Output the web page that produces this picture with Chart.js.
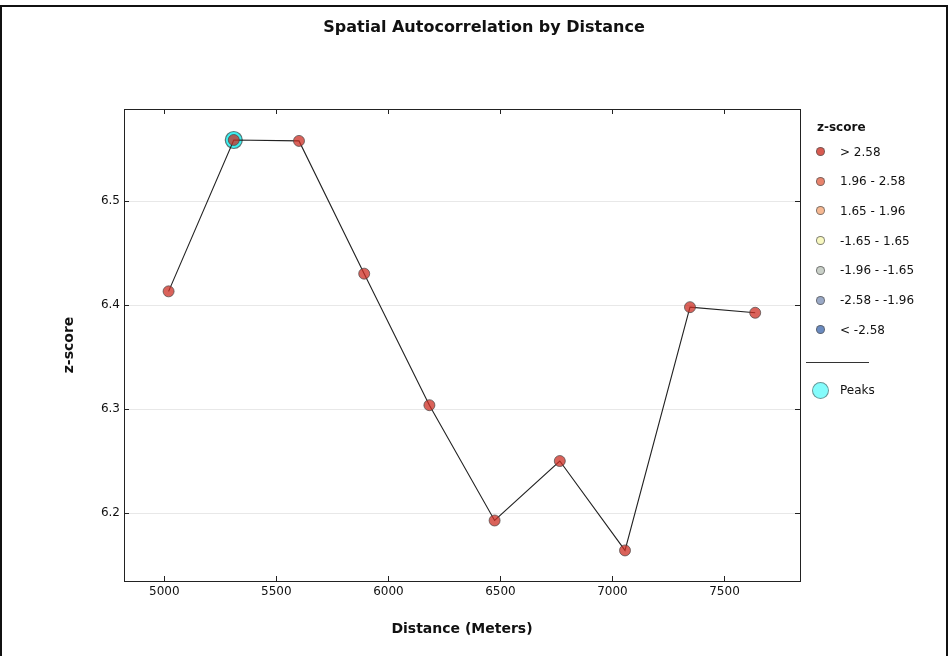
<!DOCTYPE html>
<html>
<head>
<meta charset="utf-8">
<script src="https://cdn.jsdelivr.net/npm/chart.js@4.4.1/dist/chart.umd.min.js"></script>
<style>
    html, body { margin: 0; padding: 0; background: #fff; }
    #wrap { position: relative; width: 948px; height: 656px; overflow: hidden; font-family: "DejaVu Sans", sans-serif; color: #111; }
    #frame { position: absolute; left: 0; top: 5px; width: 944px; height: 700px; border: 2px solid #111; }
    #title { position: absolute; left: 0; top: 17px; width: 968px; text-align: center; font-weight: bold; font-size: 16px; }
    #chart { position: absolute; left: 0; top: 0; }
    .lg { position: absolute; font-size: 12px; line-height: 14px; white-space: nowrap; }
    .dot { position: absolute; border-radius: 50%; box-sizing: border-box; border: 1px solid rgba(80,80,80,0.7); }
</style>
</head>
<body>
<div id="wrap">
    <div id="frame"></div>
    <canvas id="chart" width="948" height="656"></canvas>
    <div id="title">Spatial Autocorrelation by Distance</div>
    <div id="legend"></div>
</div>
<script>
// data
var distances = [5019, 5310, 5601, 5892, 6183, 6474, 6765, 7056, 7346, 7637];
var zScores = [6.4133, 6.5589, 6.5580, 6.4303, 6.3038, 6.1929, 6.2501, 6.1641, 6.3981, 6.3927];
var peakDistances = [5310];
var peakScores = [6.5589];
var xMin = 4820, xMax = 7837;
var yMin = 6.1347, yMax = 6.5887;
var xTicks = [5000, 5500, 6000, 6500, 7000, 7500];
var yTicks = [6.2, 6.3, 6.4, 6.5];

var legendLabels = ["> 2.58", "1.96 - 2.58", "1.65 - 1.96", "-1.65 - 1.65", "-1.96 - -1.65", "-2.58 - -1.96", "< -2.58"];
var legendColors = ["#d85a50", "#e8836c", "#f6b892", "#f8f8c0", "#c9d0c8", "#9aa9c6", "#6a8abf"];

function toPoints(xs, ys) {
    var pts = [];
    for (var i = 0; i < xs.length; i++) {
        pts.push({x: xs[i], y: ys[i]});
    }
    return pts;
}

function fixedTicks(values) {
    return function (scale) {
        scale.ticks = values.map(function (v) { return {value: v}; });
    };
}

// frame round the plot and small inward tick marks on all four sides
var frameTicks = {
    id: 'frameTicks',
    beforeDatasetsDraw: function (chart) {
        var ctx = chart.ctx;
        var a = chart.chartArea;
        var xs = chart.scales.x, ys = chart.scales.y;
        ctx.save();
        ctx.strokeStyle = '#222';
        ctx.lineWidth = 1;
        ctx.strokeRect(Math.round(a.left) + 0.5, Math.round(a.top) + 0.5, Math.round(a.right - a.left), Math.round(a.bottom - a.top));
        ctx.beginPath();
        xs.ticks.forEach(function (t) {
            var px = Math.round(xs.getPixelForValue(t.value)) + 0.5;
            ctx.moveTo(px, a.bottom); ctx.lineTo(px, a.bottom - 5);
            ctx.moveTo(px, a.top); ctx.lineTo(px, a.top + 5);
        });
        ys.ticks.forEach(function (t) {
            var py = Math.round(ys.getPixelForValue(t.value)) + 0.5;
            ctx.moveTo(a.left, py); ctx.lineTo(a.left + 5, py);
            ctx.moveTo(a.right, py); ctx.lineTo(a.right - 5, py);
        });
        ctx.stroke();
        ctx.restore();
    }
};

function main() {
    var ctx = document.getElementById('chart').getContext('2d');
    var myChart = new Chart(ctx, {
        type: 'scatter',
        data: {
            datasets: [{
                label: 'z-score',
                data: toPoints(distances, zScores),
                showLine: true,
                borderColor: '#222',
                borderWidth: 1.1,
                pointRadius: 5.5,
                pointBackgroundColor: 'rgba(205,45,35,0.75)',
                pointBorderColor: 'rgba(70,70,70,0.7)',
                pointBorderWidth: 1,
                order: 1
            }, {
                label: 'Peaks',
                data: toPoints(peakDistances, peakScores),
                pointRadius: 8.5,
                pointBackgroundColor: '#3ef0f0',
                pointBorderColor: 'rgba(70,90,90,0.8)',
                pointBorderWidth: 1.2,
                order: 2
            }]
        },
        options: {
            responsive: false,
            animation: false,
            layout: { padding: { left: 0, top: 109, right: 148, bottom: 0 } },
            plugins: {
                legend: { display: false },
                tooltip: { enabled: false },
                title: { display: false }
            },
            scales: {
                x: {
                    type: 'linear',
                    min: xMin,
                    max: xMax,
                    afterBuildTicks: fixedTicks(xTicks),
                    afterFit: function (scale) { scale.height = 75; },
                    grid: { display: false, drawTicks: false },
                    border: { display: false },
                    ticks: {
                        padding: 4,
                        maxRotation: 0,
                        color: '#111',
                        font: { family: 'DejaVu Sans', size: 12 },
                        callback: function (v) { return String(v); }
                    },
                    title: {
                        display: true,
                        text: 'Distance (Meters)',
                        color: '#111',
                        font: { family: 'DejaVu Sans', size: 14, weight: 'bold' },
                        padding: { top: 0, bottom: 18 }
                    }
                },
                y: {
                    type: 'linear',
                    min: yMin,
                    max: yMax,
                    afterBuildTicks: fixedTicks(yTicks),
                    afterFit: function (scale) { scale.width = 124; },
                    grid: { color: '#e8e8e8', drawTicks: false },
                    border: { display: false },
                    ticks: {
                        padding: 4,
                        color: '#111',
                        font: { family: 'DejaVu Sans', size: 12 },
                        callback: function (v) { return v.toFixed(1); }
                    },
                    title: {
                        display: true,
                        text: 'z-score',
                        color: '#111',
                        font: { family: 'DejaVu Sans', size: 14, weight: 'bold' },
                        padding: { top: 61, bottom: 0 }
                    }
                }
            }
        },
        plugins: [frameTicks]
    });
    buildLegend();
}

function buildLegend() {
    var box = document.getElementById('legend');
    var html = '<div class="lg" style="left:817px;top:120px;font-weight:bold;">z-score</div>';
    for (var i = 0; i < legendLabels.length; i++) {
        var cy = 151.5 + i * 29.7;
        html += '<div class="dot" style="left:' + (820.5 - 4.5) + 'px;top:' + (cy - 4.5) + 'px;width:9px;height:9px;background:' + legendColors[i] + ';"></div>';
        html += '<div class="lg" style="left:840px;top:' + (cy - 7) + 'px;">' + legendLabels[i].replace('<', '&lt;').replace('>', '&gt;') + '</div>';
    }
    html += '<div style="position:absolute;left:806px;top:362px;width:63px;height:1px;background:#333;"></div>';
    html += '<div class="dot" style="left:812px;top:381.5px;width:17px;height:17px;background:#84fcfc;border-color:rgba(90,110,110,0.7);"></div>';
    html += '<div class="lg" style="left:840px;top:383px;">Peaks</div>';
    box.innerHTML = html;
}

main();
</script>
</body>
</html>
